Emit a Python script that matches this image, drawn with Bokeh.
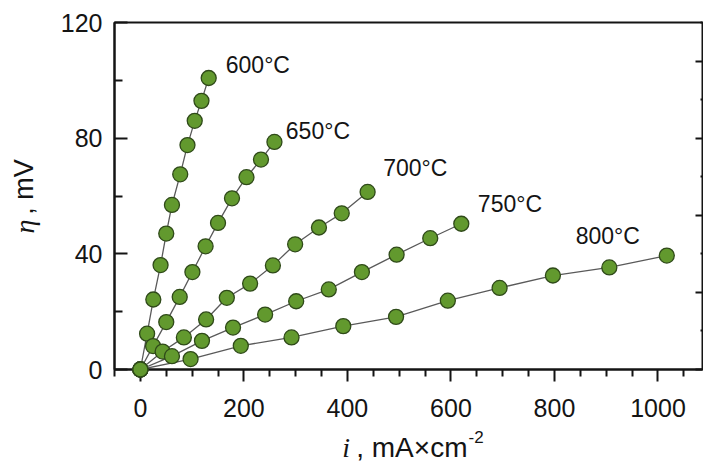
from math import pi
from bokeh.plotting import figure
from bokeh.models import Range1d, LinearAxis, FixedTicker
from bokeh.core.properties import value
from bokeh.embed import file_html
from bokeh.resources import INLINE

# ---- data ----
temps = ["600°C", "650°C", "700°C", "750°C", "800°C"]

i_600 = [0, 13, 25, 39, 50, 61, 77, 91, 105, 118, 132]
eta_600 = [0, 12.4, 24.2, 36.1, 47.0, 56.9, 67.5, 77.6, 86.0, 92.9, 100.8]

i_650 = [0, 24.5, 50, 76, 100.5, 126, 150, 177, 205, 233, 259]
eta_650 = [0, 8.1, 16.4, 25.1, 33.7, 42.6, 50.7, 59.2, 66.5, 72.6, 78.7]

i_700 = [0, 43, 84, 127, 167, 212, 256, 299, 345, 389, 439]
eta_700 = [0, 6.2, 11.1, 17.3, 24.8, 29.7, 36.0, 43.3, 49.1, 54.0, 61.4]

i_750 = [0, 61, 119, 179, 241, 301, 364, 428, 495, 560, 620]
eta_750 = [0, 4.6, 9.9, 14.5, 19.0, 23.6, 27.7, 33.7, 39.7, 45.4, 50.4]

i_800 = [0, 97, 194, 292, 392, 494, 594, 694, 797, 906, 1017]
eta_800 = [0, 3.6, 8.2, 11.1, 15.0, 18.2, 23.8, 28.2, 32.5, 35.3, 39.4]

x_major = [0, 200, 400, 600, 800, 1000]
x_minor = [-50, 50, 100, 150, 250, 300, 350, 450, 500, 550, 650, 700, 750,
           850, 900, 950, 1050]
y_major = [0, 40, 80, 120]
y_minor = [20, 60, 100]
r_major = [0, 1, 2, 3, 4]
r_minor = [0.5, 1.5, 2.5, 3.5, 4.5]

# annotation anchors for the temperature labels (data units)
label_x = [227, 343, 531, 714, 903]
label_y = [105.3, 82.4, 69.6, 57.2, 46.3]

series = [(i_600, eta_600), (i_650, eta_650), (i_700, eta_700),
          (i_750, eta_750), (i_800, eta_800)]

TXT = "#141414"
SANS = "Liberation Sans"
SERIF = "Liberation Serif"

p = figure(width=703, height=462, output_backend="svg", toolbar_location=None,
           x_range=Range1d(-50, 1086), y_range=Range1d(0, 120),
           min_border_left=114, min_border_right=1, min_border_top=22,
           min_border_bottom=93)
p.grid.visible = False
p.background_fill_color = "white"
p.border_fill_color = "white"
p.outline_line_color = TXT
p.outline_line_width = 2

# axes
xa = p.xaxis[0]
xa.ticker = FixedTicker(ticks=x_major, minor_ticks=x_minor)
xa.major_tick_out = 12
xa.major_tick_in = 0
xa.minor_tick_out = 7
xa.minor_tick_in = 0
xa.major_label_standoff = 17
ya = p.yaxis[0]
ya.ticker = FixedTicker(ticks=y_major, minor_ticks=y_minor)
ya.major_tick_in = 13
ya.major_tick_out = 0
ya.minor_tick_in = 8
ya.minor_tick_out = 0
ya.major_label_standoff = 12
for ax in (xa, ya):
    ax.axis_line_width = 2
    ax.axis_line_color = TXT
    ax.major_tick_line_width = 2
    ax.minor_tick_line_width = 2
    ax.major_tick_line_color = TXT
    ax.minor_tick_line_color = TXT
    ax.major_label_text_font = SANS
    ax.major_label_text_font_size = "25px"
    ax.major_label_text_color = TXT

p.extra_y_ranges = {"right": Range1d(0, 4.5)}
ra = LinearAxis(y_range_name="right",
                ticker=FixedTicker(ticks=r_major, minor_ticks=r_minor))
ra.major_tick_in = 7
ra.major_tick_out = 0
ra.minor_tick_in = 2
ra.minor_tick_out = 0
ra.major_tick_line_width = 2
ra.minor_tick_line_width = 2
ra.major_tick_line_color = TXT
ra.minor_tick_line_color = TXT
ra.axis_line_color = None
ra.major_label_overrides = {t: "" for t in r_major}
ra.major_label_text_font_size = "10px"
ra.major_label_standoff = 0
p.add_layout(ra, "right")

# data
for xs, ys in series:
    p.line(xs, ys, line_color="#5a5a5a", line_width=1.3)
for xs, ys in series:
    p.scatter(xs, ys, marker="circle", size=15, fill_color="#62992e",
              line_color="#2f4a19", line_width=1.3, level="overlay")

p.text(x=label_x, y=label_y, text=temps, text_font=value(SANS),
       text_font_size="23px", text_color=TXT, text_align="center",
       text_baseline="middle")

# axis titles, placed in data units outside the frame (overlay = unclipped)
p.text(x=[390], y=[-27.0], text=["i"], text_font=value(SERIF),
       text_font_style="italic", text_font_size="28px", text_color=TXT,
       text_align="left", text_baseline="alphabetic", level="overlay")
p.text(x=[417], y=[-27.0], text=[", mA×cm"], text_font=value(SANS),
       text_font_size="28px", text_color=TXT,
       text_align="left", text_baseline="alphabetic", level="overlay")
p.text(x=[634], y=[-23.3], text=["-2"], text_font=value(SANS),
       text_font_size="17px", text_color=TXT,
       text_align="left", text_baseline="alphabetic", level="overlay")

p.text(x=[-224], y=[47.0], text=["η"], angle=pi / 2, text_font=value(SERIF),
       text_font_style="italic", text_font_size="28px", text_color=TXT,
       text_align="left", text_baseline="alphabetic", level="overlay")
p.text(x=[-224], y=[53.5], text=[" , mV"], angle=pi / 2, text_font=value(SANS),
       text_font_size="27px", text_color=TXT,
       text_align="left", text_baseline="alphabetic", level="overlay")

open("out.html", "w").write(file_html(p, INLINE))
